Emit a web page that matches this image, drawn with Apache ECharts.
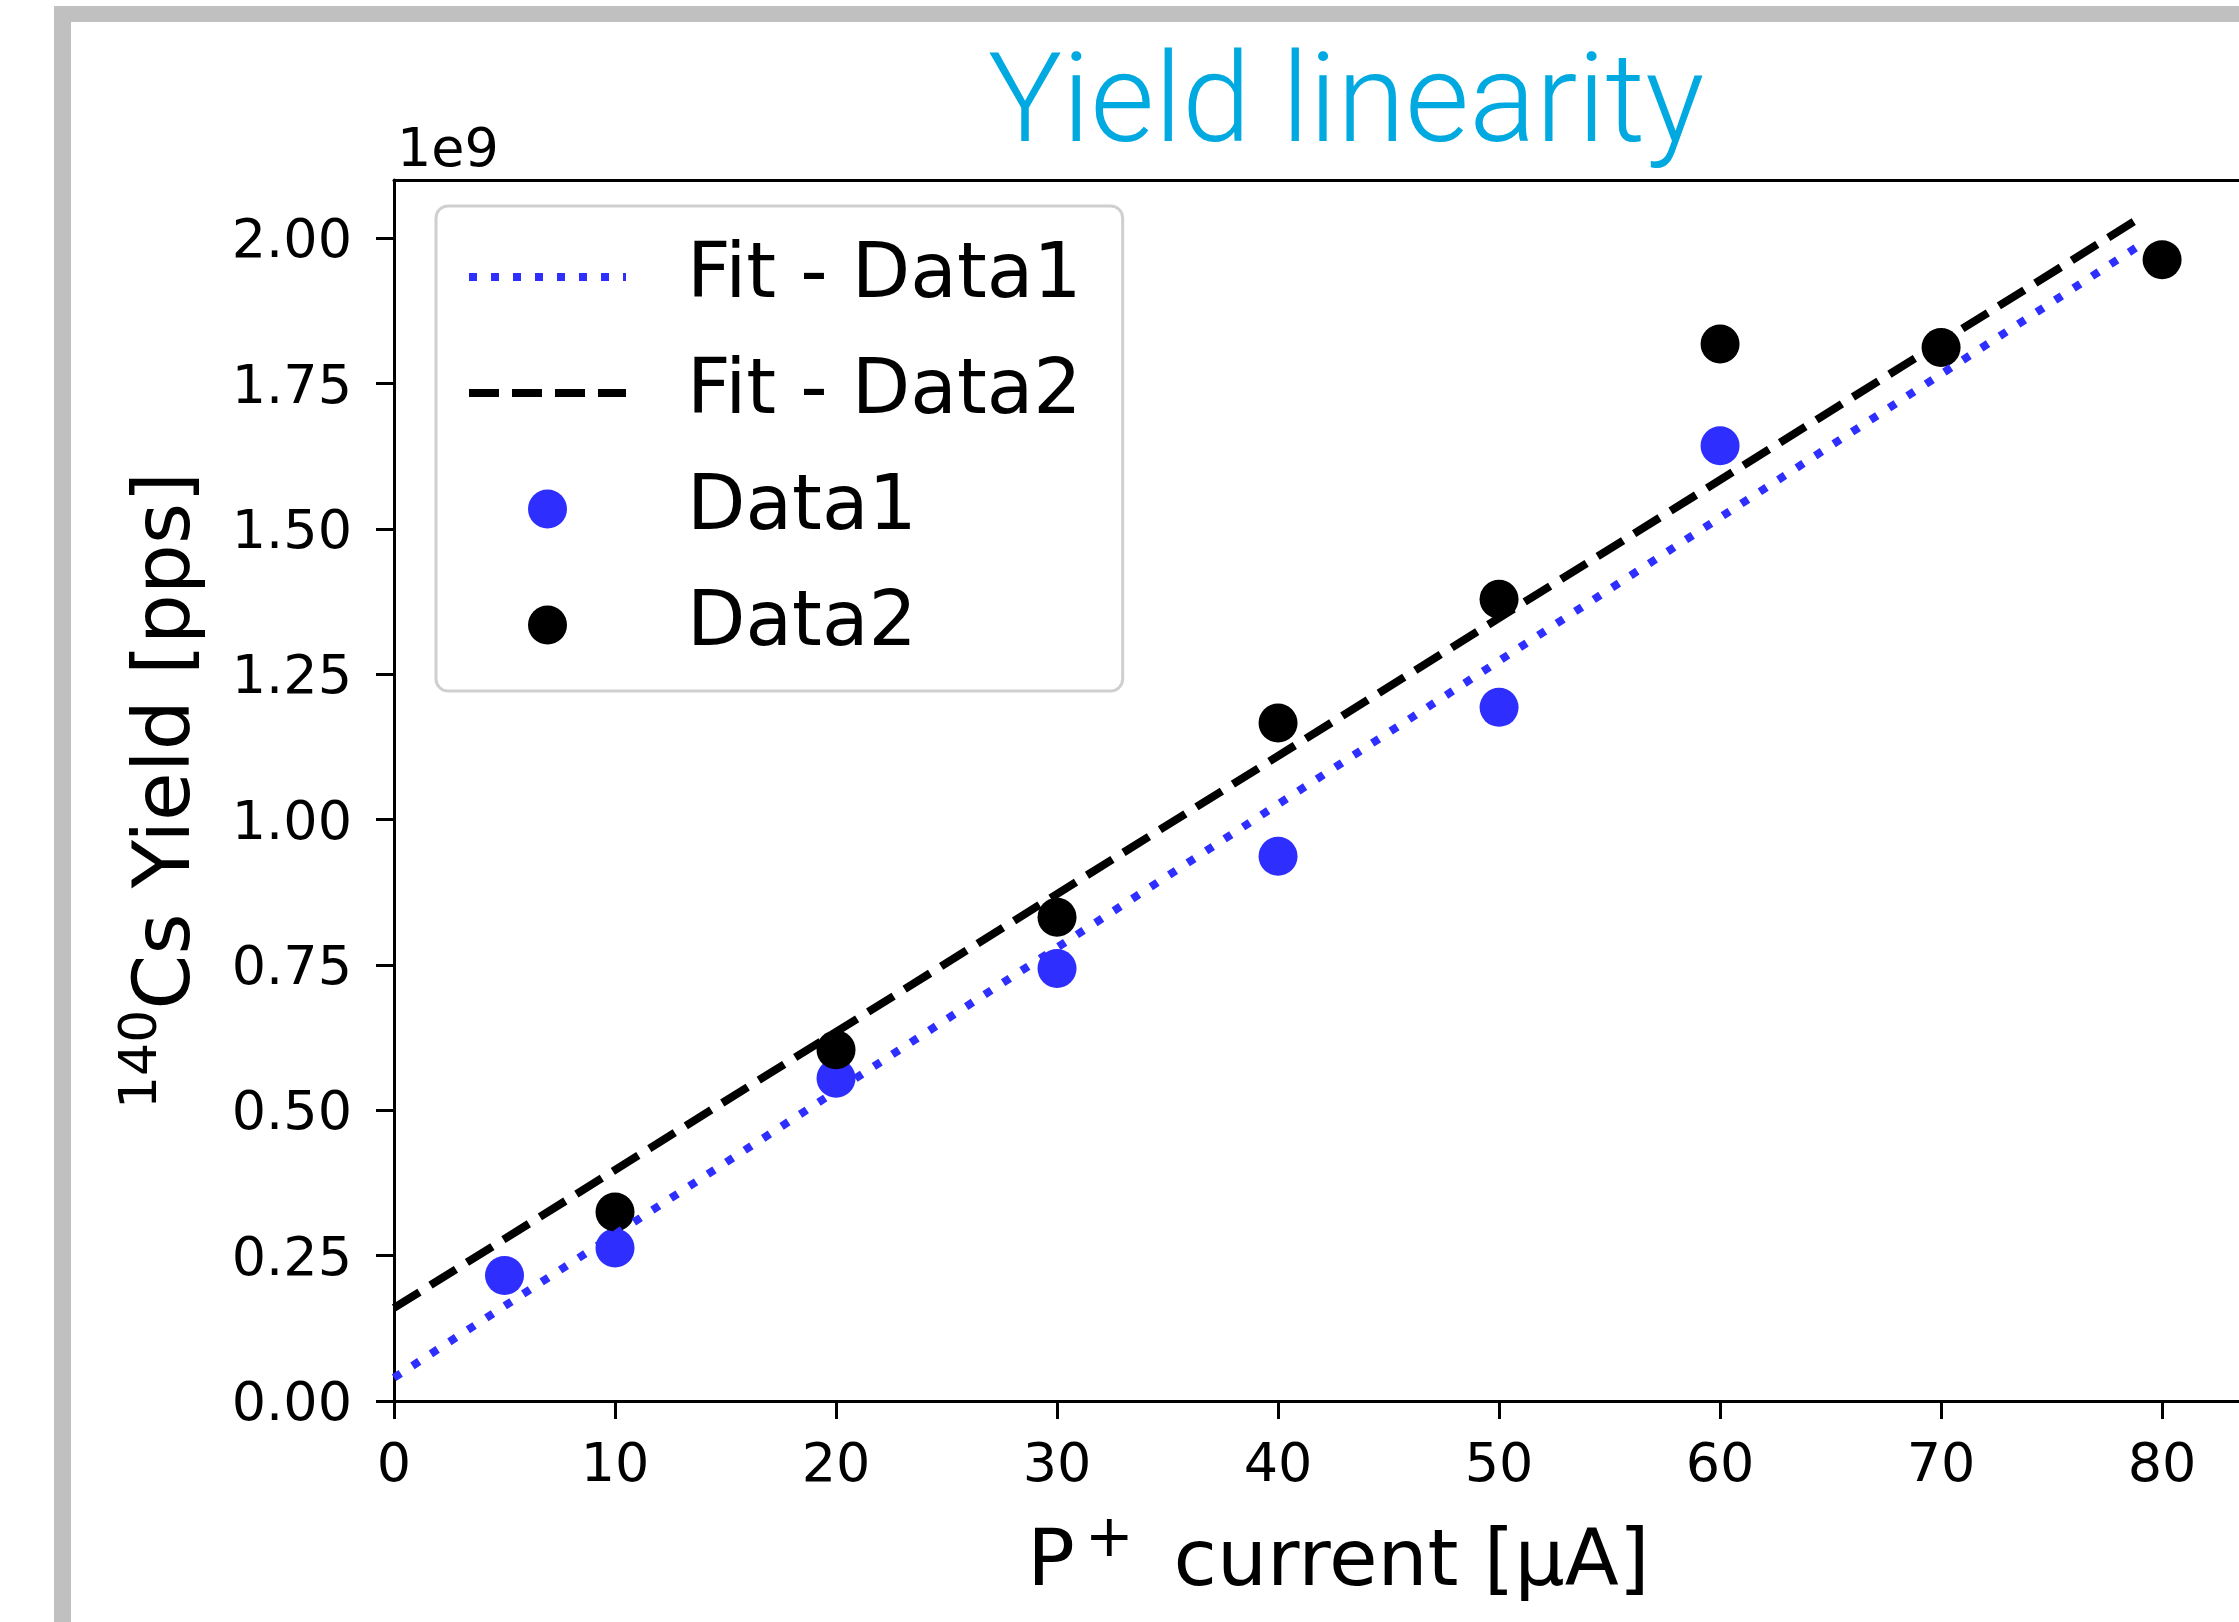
<!DOCTYPE html>
<html>
<head>
<meta charset="utf-8">
<title>Yield linearity</title>
<script src="https://cdn.jsdelivr.net/npm/echarts@6/dist/echarts.min.js"></script>
<style>
    html, body { margin: 0; padding: 0; background: #fff; }
    #chart { width: 2239px; height: 1622px; }
</style>
</head>
<body>
<div id="chart"></div>
<script>
// values, yield in units of 1e9 pps
const currentData1 = [5, 10, 20, 30, 40, 50, 60];
const yieldData1 = [0.216, 0.263, 0.555, 0.744, 0.937, 1.193, 1.643];
const currentData2 = [10, 20, 30, 40, 50, 60, 70, 80];
const yieldData2 = [0.325, 0.604, 0.832, 1.166, 1.379, 1.818, 1.812, 1.963];
// fit lines, start and end point
const fitX = [0, 79];
const fitY1 = [0.04, 1.988];
const fitY2 = [0.16, 2.035];
// tick labels
const xTicks = [0, 10, 20, 30, 40, 50, 60, 70, 80];
const yTicks = [0, 0.25, 0.5, 0.75, 1, 1.25, 1.5, 1.75, 2];

const pairs = (xs, ys) => xs.map((x, i) => [x, ys[i]]);

const FONT = 'DejaVu Sans';
const BLUE = '#2e2eff';

let chart = echarts.init(document.getElementById('chart'));
chart.setOption({
    animation: false,
    backgroundColor: '#fff',
    title: [
        {
            text: 'Yield linearity',
            left: 988,
            top: 48,
            padding: 0,
            textStyle: {
                fontFamily: 'Roboto',
                fontWeight: 300,
                fontSize: 124,
                color: '#00a9e0'
            }
        },
        {
            // axis offset text
            text: '1e9',
            left: 397,
            top: 125,
            padding: 0,
            textStyle: {
                fontFamily: 'DejaVu Sans',
                fontWeight: 'normal',
                fontSize: 54,
                color: '#000'
            }
        }
    ],
    graphic: [
        { type: 'rect', z: -10, shape: { x: 54, y: 6, width: 2185, height: 16 }, style: { fill: '#c0c0c0' } },
        { type: 'rect', z: -10, shape: { x: 54, y: 6, width: 17, height: 1616 }, style: { fill: '#c0c0c0' } }
    ],
    legend: {
        orient: 'vertical',
        left: 436,
        top: 206,
        padding: [26, 41, 21, 29],
        itemWidth: 157,
        itemHeight: 39,
        itemGap: 26,
        backgroundColor: '#fff',
        borderColor: '#cfcfcf',
        borderWidth: 3,
        borderRadius: 12,
        lineStyle: { width: 8 },
        data: [
            { name: 'Fit - Data1', itemStyle: { opacity: 0 } },
            { name: 'Fit - Data2', itemStyle: { opacity: 0 } },
            'Data1',
            'Data2'
        ],
        textStyle: {
            fontFamily: FONT,
            fontSize: 76,
            lineHeight: 90,
            color: '#000',
            padding: [0, 0, 0, 56]
        }
    },
    grid: {
        left: 394,
        top: 180,
        right: 0,
        height: 1221
    },
    xAxis: [
        {
            type: 'value',
            min: 0,
            max: 83.48,
            name: 'P{sup|+}current [μA]',
            nameLocation: 'middle',
            nameGap: 111,
            nameTextStyle: {
                padding: [0, 0, 0, 44],
                rich: {
                    sup: { fontFamily: FONT, fontSize: 58, verticalAlign: 'top', color: '#000', padding: [0, 40, 0, 10] }
                },
                fontFamily: FONT,
                fontSize: 79,
                lineHeight: 104,
                color: '#000'
            },
            splitLine: { show: false },
            axisLine: { onZero: false, lineStyle: { color: '#000', width: 3 } },
            axisTick: { length: 18, lineStyle: { color: '#000', width: 3 }, customValues: xTicks },
            axisLabel: {
                customValues: xTicks,
                margin: 39,
                fontFamily: FONT,
                fontSize: 54,
                color: '#000'
            }
        },
        {
            type: 'value',
            position: 'top',
            min: 0,
            max: 83.48,
            splitLine: { show: false },
            axisLine: { show: true, onZero: false, lineStyle: { color: '#000', width: 3 } },
            axisTick: { show: false },
            axisLabel: { show: false }
        }
    ],
    yAxis: {
        type: 'value',
        min: 0,
        max: 2.1,
        name: '{sup|140}Cs Yield [pps]',
        nameLocation: 'middle',
        nameRotate: 90,
        nameGap: 171,
        nameTextStyle: {
            rich: {
                sup: { fontFamily: FONT, fontSize: 52, verticalAlign: 'top', color: '#000' }
            },
            fontFamily: FONT,
            fontSize: 79,
            lineHeight: 104,
            color: '#000'
        },
        splitLine: { show: false },
        axisLine: { show: true, onZero: false, lineStyle: { color: '#000', width: 3 } },
        axisTick: { show: true, length: 18, lineStyle: { color: '#000', width: 3 }, customValues: yTicks },
        axisLabel: {
            customValues: yTicks,
            margin: 42,
            fontFamily: FONT,
            fontSize: 54,
            color: '#000',
            formatter: v => '{v|' + v.toFixed(2) + '}',
            rich: {
                v: { fontFamily: FONT, fontSize: 54, color: '#000', padding: [10, 0, 0, 0] }
            }
        }
    },
    series: [
        {
            name: 'Fit - Data1',
            type: 'line',
            symbol: 'none',
            data: pairs(fitX, fitY1),
            lineStyle: { color: BLUE, width: 8, type: [8, 14] },
            itemStyle: { color: BLUE }
        },
        {
            name: 'Fit - Data2',
            type: 'line',
            symbol: 'none',
            data: pairs(fitX, fitY2),
            lineStyle: { color: '#000', width: 8, type: [30, 13] },
            itemStyle: { color: '#000' }
        },
        {
            name: 'Data1',
            type: 'scatter',
            symbol: 'circle',
            symbolSize: 39,
            data: pairs(currentData1, yieldData1),
            itemStyle: { color: BLUE, opacity: 1 }
        },
        {
            name: 'Data2',
            type: 'scatter',
            symbol: 'circle',
            symbolSize: 39,
            data: pairs(currentData2, yieldData2),
            itemStyle: { color: '#000', opacity: 1 }
        }
    ]
});
</script>
</body>
</html>
